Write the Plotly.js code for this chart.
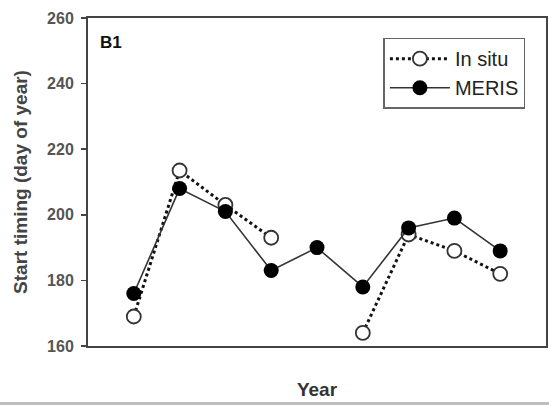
<!DOCTYPE html>
<html>
<head>
<meta charset="utf-8">
<script src="https://cdn.plot.ly/plotly-3.0.1.min.js"></script>
<style>
  html, body { margin: 0; padding: 0; background: #bdbdbd; }
  #chart { width: 549px; height: 402px; background: #fff; }
</style>
</head>
<body>
<div id="chart"></div>
<script>
// Data (9 consecutive years, x labels not shown)
const yearIndex = [1, 2, 3, 4, 5, 6, 7, 8, 9];
const inSitu = [169, 213.5, 203, 193, null, 164, 194, 189, 182];
const meris  = [176, 208, 201, 183, 190, 178, 196, 199, 189];
const yTicks = [160, 180, 200, 220, 240, 260];

const font = 'Arial, "Liberation Sans", Helvetica, sans-serif';

const traces = [
  {
    x: yearIndex, y: inSitu, name: 'In situ', type: 'scatter', mode: 'lines+markers',
    line: { color: '#111', width: 3, dash: 'dot' },
    marker: { symbol: 'circle', size: 14, color: '#fff', line: { color: '#333', width: 1.8 } },
    connectgaps: false
  },
  {
    x: yearIndex, y: meris, name: 'MERIS', type: 'scatter', mode: 'lines+markers',
    line: { color: '#333', width: 1.6 },
    marker: { symbol: 'circle', size: 15, color: '#000' }
  }
];

const layout = {
  width: 549, height: 402,
  margin: { l: 88, r: 3, t: 18, b: 56 },
  paper_bgcolor: '#fff', plot_bgcolor: '#fff',
  font: { family: font, color: '#222' },
  showlegend: true,
  legend: {
    x: 0.645, y: 0.94, xanchor: 'left', yanchor: 'top',
    bordercolor: '#666', borderwidth: 1.5, bgcolor: '#fff',
    font: { family: font, size: 20, color: '#222' },
    itemwidth: 60,
    tracegroupgap: 0
  },
  xaxis: {
    range: [0, 10], showticklabels: false, ticks: '', showgrid: false, zeroline: false,
    showline: true, linecolor: '#444', linewidth: 2, mirror: true,
    title: { text: 'Year', standoff: 36, font: { family: font, size: 19, weight: 'bold', color: '#333' } }
  },
  yaxis: {
    range: [160, 260], tickvals: yTicks, ticktext: yTicks.map(String),
    ticks: 'outside', ticklen: 5, tickwidth: 1.5, tickcolor: '#444',
    showgrid: false, zeroline: false,
    showline: true, linecolor: '#444', linewidth: 2, mirror: true,
    tickfont: { family: font, size: 16, weight: 'bold', color: '#555' },
    ticklabelstandoff: 4,
    title: { text: 'Start timing (day of year)', standoff: 14, font: { family: font, size: 19, weight: 'bold', color: '#444' } }
  },
  annotations: [
    { text: 'B1', xref: 'paper', yref: 'paper', x: 0.022, y: 0.925, xanchor: 'left', yanchor: 'middle',
      showarrow: false, font: { family: font, size: 17, weight: 'bold', color: '#111' } }
  ]
};

Plotly.newPlot('chart', traces, layout, { displayModeBar: false, staticPlot: true });
</script>
</body>
</html>
